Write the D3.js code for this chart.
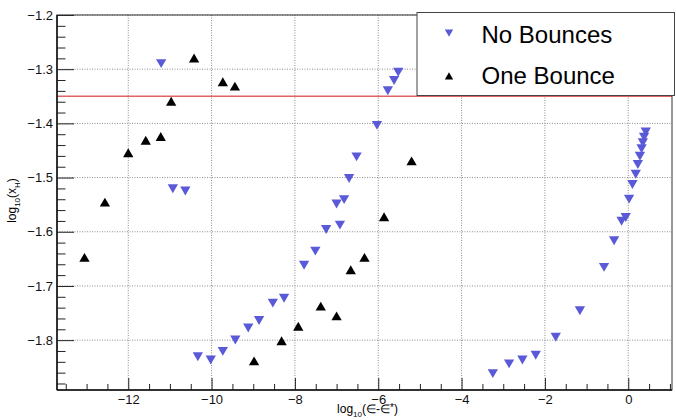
<!DOCTYPE html>
<html>
<head>
<meta charset="utf-8">
<script src="https://cdn.jsdelivr.net/npm/d3@7"></script>
<style>
body { margin: 0; background: #fff; }
text { font-family: "Liberation Sans", Arial, sans-serif; }
</style>
</head>
<body>
<div id="chart"></div>
<script>
// log10(eps - eps*) , log10(x_H)
var noBounces = [
    [-11.21, -1.287], [-10.93, -1.518], [-10.63, -1.522],
    [-10.33, -1.828], [-10.02, -1.834], [-9.73, -1.818], [-9.43, -1.797],
    [-9.12, -1.775], [-8.86, -1.761], [-8.53, -1.729], [-8.26, -1.720],
    [-7.78, -1.659], [-7.51, -1.633], [-7.25, -1.593], [-6.92, -1.585],
    [-7.00, -1.546], [-6.82, -1.538], [-6.70, -1.499], [-6.52, -1.459],
    [-6.03, -1.401], [-5.77, -1.337], [-5.62, -1.318], [-5.52, -1.303],
    [-3.25, -1.859], [-2.86, -1.841], [-2.54, -1.834], [-2.22, -1.825],
    [-1.74, -1.792], [-1.16, -1.743], [-0.58, -1.663], [-0.34, -1.614],
    [-0.16, -1.578], [-0.06, -1.571], [0.02, -1.537], [0.10, -1.510],
    [0.18, -1.491], [0.23, -1.473], [0.28, -1.458], [0.32, -1.444],
    [0.35, -1.433], [0.38, -1.423], [0.42, -1.413]
];

var oneBounce = [
    [-13.05, -1.650], [-12.56, -1.548], [-12.00, -1.457], [-11.58, -1.434],
    [-11.22, -1.427], [-10.97, -1.362], [-10.42, -1.282], [-9.73, -1.326],
    [-9.44, -1.334], [-8.98, -1.841], [-8.32, -1.804], [-7.92, -1.777],
    [-7.38, -1.740], [-7.00, -1.758], [-6.66, -1.673], [-6.33, -1.650],
    [-5.86, -1.575], [-5.20, -1.472]
];

var xTicks = [-12, -10, -8, -6, -4, -2, 0];
var xMinor = [-13.5, -13, -12.5, -11.5, -11, -10.5, -9.5, -9, -8.5, -7.5, -7, -6.5,
              -5.5, -5, -4.5, -3.5, -3, -2.5, -1.5, -1, -0.5, 0.5, 1];
var yTicks = [-1.2, -1.3, -1.4, -1.5, -1.6, -1.7, -1.8];
var yMinor = [-1.22, -1.24, -1.26, -1.28, -1.32, -1.34, -1.36, -1.38,
              -1.42, -1.44, -1.46, -1.48, -1.52, -1.54, -1.56, -1.58,
              -1.62, -1.64, -1.66, -1.68, -1.72, -1.74, -1.76, -1.78,
              -1.82, -1.84, -1.86, -1.88];
var cutLine = -1.35;
var seriesNames = ["No Bounces", "One Bounce"];

var margin = {top: 15, right: 4, bottom: 30, left: 57},
    width = 676 - margin.left - margin.right,
    height = 420 - margin.top - margin.bottom;

var blue = "#5a5ad8";

var x = d3.scaleLinear()
    .domain([-13.71, 1.05])
    .range([0, width]);

var y = d3.scaleLinear()
    .domain([-1.892, -1.2])
    .range([height, 0]);

var svg = d3.select("#chart").append("svg")
    .attr("width", 676)
    .attr("height", 420)
    .append("g")
    .attr("transform", "translate(" + margin.left + "," + margin.top + ")");

// dotted grid
svg.append("g").selectAll("line")
    .data(xTicks)
    .enter().append("line")
    .attr("x1", function(d) { return x(d); })
    .attr("x2", function(d) { return x(d); })
    .attr("y1", 0)
    .attr("y2", height)
    .attr("stroke", "#8c8c8c")
    .attr("stroke-dasharray", "1,1.5");

svg.append("g").selectAll("line")
    .data(yTicks)
    .enter().append("line")
    .attr("x1", 0)
    .attr("x2", width)
    .attr("y1", function(d) { return y(d); })
    .attr("y2", function(d) { return y(d); })
    .attr("stroke", "#8c8c8c")
    .attr("stroke-dasharray", "1,1.5");

// threshold line
svg.append("line")
    .attr("x1", 0)
    .attr("x2", width)
    .attr("y1", y(cutLine))
    .attr("y2", y(cutLine))
    .attr("stroke", "#e06464")
    .attr("stroke-width", 1.5);

var triDown = d3.symbol().type(d3.symbolTriangle).size(46);
var triUp = d3.symbol().type(d3.symbolTriangle).size(46);

svg.append("g").selectAll("path")
    .data(noBounces)
    .enter().append("path")
    .attr("d", triDown)
    .attr("transform", function(d) { return "translate(" + x(d[0]) + "," + y(d[1]) + ") rotate(180)"; })
    .attr("fill", blue);

svg.append("g").selectAll("path")
    .data(oneBounce)
    .enter().append("path")
    .attr("d", triUp)
    .attr("transform", function(d) { return "translate(" + x(d[0]) + "," + y(d[1]) + ")"; })
    .attr("fill", "#000");

// axes, ticks pointing inwards
var xAxis = d3.axisBottom(x).tickValues(xTicks).tickSize(-12).tickPadding(5)
    .tickFormat(d3.format("d"));
var xAxisMinor = d3.axisBottom(x).tickValues(xMinor).tickSize(-6).tickFormat("");
var yAxis = d3.axisLeft(y).tickValues(yTicks).tickSize(-17).tickPadding(4)
    .tickFormat(d3.format(".1f"));
var yAxisMinor = d3.axisLeft(y).tickValues(yMinor).tickSize(-8.5).tickFormat("");

[xAxis, xAxisMinor].forEach(function(ax) {
    svg.append("g")
        .attr("transform", "translate(0," + height + ")")
        .call(ax)
        .call(function(g) { g.select(".domain").remove(); });
});
[yAxis, yAxisMinor].forEach(function(ax) {
    svg.append("g")
        .call(ax)
        .call(function(g) { g.select(".domain").remove(); });
});

svg.selectAll(".tick line").attr("stroke", "#222");
svg.selectAll(".tick text")
    .attr("font-size", 13)
    .attr("fill", "#111")
    .style("font-family", "'Liberation Sans', Arial, sans-serif");

// frame
svg.append("rect")
    .attr("x", 0)
    .attr("y", 0)
    .attr("width", width)
    .attr("height", height)
    .attr("fill", "none")
    .attr("stroke", "#333")
    .attr("stroke-width", 1);
svg.append("line")
    .attr("x1", 0).attr("x2", 0).attr("y1", 0).attr("y2", height)
    .attr("stroke", "#111").attr("stroke-width", 1.5);
svg.append("line")
    .attr("x1", 0).attr("x2", width).attr("y1", height).attr("y2", height)
    .attr("stroke", "#111").attr("stroke-width", 1.5);

// axis titles
var xt = svg.append("text")
    .attr("x", width / 2 + 3)
    .attr("y", height + 23)
    .attr("text-anchor", "middle")
    .attr("font-size", 12);
xt.append("tspan").text("log");
xt.append("tspan").attr("font-size", 8).attr("dy", 4).text("10");
xt.append("tspan").attr("dy", -4).text("(\u2208-\u2208");
xt.append("tspan").attr("font-size", 10).attr("dy", -2).text("*");
xt.append("tspan").attr("dy", 2).text(")");

var yt = svg.append("text")
    .attr("transform", "translate(" + (-41) + "," + (height / 2 - 2) + ") rotate(-90)")
    .attr("text-anchor", "middle")
    .attr("font-size", 12);
yt.append("tspan").text("log");
yt.append("tspan").attr("font-size", 8).attr("dy", 4).text("10");
yt.append("tspan").attr("dy", -4).text("(x");
yt.append("tspan").attr("font-size", 8).attr("dy", 4).text("H");
yt.append("tspan").attr("dy", -4).text(")");

// legend
var leg = d3.select("svg").append("g");
leg.append("rect")
    .attr("x", 417)
    .attr("y", 12.5)
    .attr("width", 257.5)
    .attr("height", 83)
    .attr("fill", "#fff")
    .attr("stroke", "#444")
    .attr("stroke-width", 1);

var legSym = d3.symbol().type(d3.symbolTriangle).size(30);
leg.selectAll("path")
    .data(seriesNames)
    .enter().append("path")
    .attr("d", legSym)
    .attr("transform", function(d, i) {
        return "translate(449," + (i == 0 ? 32 : 77) + ")" + (i == 0 ? " rotate(180)" : "");
    })
    .attr("fill", function(d, i) { return i == 0 ? blue : "#000"; });

leg.selectAll("text")
    .data(seriesNames)
    .enter().append("text")
    .text(function(d) { return d; })
    .attr("x", 481.5)
    .attr("y", function(d, i) { return i == 0 ? 42.5 : 83.5; })
    .attr("font-size", 24)
    .attr("fill", "#000");
</script>
</body>
</html>
